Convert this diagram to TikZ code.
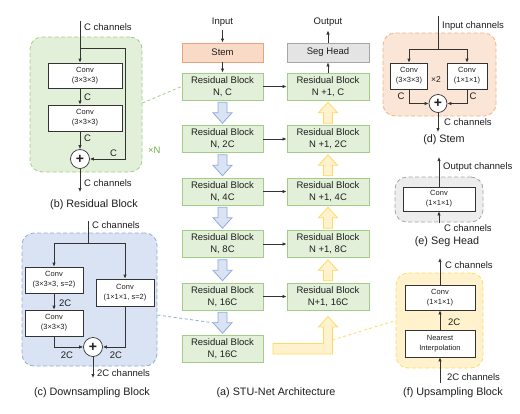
\documentclass[tikz,border=0pt]{standalone}
\usepackage{fontspec}
\setmainfont{Liberation Sans}
\usetikzlibrary{arrows.meta,calc}
\definecolor{tc}{HTML}{1E1E1E}
\definecolor{lncol}{HTML}{333333}
\definecolor{gfill}{HTML}{E2F0D9}
\definecolor{gline}{HTML}{A3CD87}
\definecolor{gtext}{HTML}{70AD47}
\definecolor{bfill}{HTML}{DAE3F3}
\definecolor{bline}{HTML}{8FAADC}
\definecolor{ofill}{HTML}{FBE5D6}
\definecolor{oline}{HTML}{F4B183}
\definecolor{sfill}{HTML}{F9DAC6}
\definecolor{sline}{HTML}{E8A47C}
\definecolor{kfill}{HTML}{EDEDED}
\definecolor{kline}{HTML}{A6A6A6}
\definecolor{hfill}{HTML}{E4E4E4}
\definecolor{yfill}{HTML}{FFF2CC}
\definecolor{yline}{HTML}{FFD966}
\begin{document}
\begin{tikzpicture}[x=1pt,y=-1pt,
  lbl/.style={font=\fontsize{9.5}{12}\selectfont, text=tc, inner sep=0pt},
  captxt/.style={font=\fontsize{10.8}{13}\selectfont, text=tc, inner sep=0pt},
  rb/.style={draw=gline, fill=gfill, line width=0.8pt, minimum width=81pt, minimum height=27pt, inner sep=0pt, align=center, font=\fontsize{9.5}{12}\selectfont, text=tc},
  convbox/.style={draw=lncol, fill=white, line width=0.7pt, inner sep=0pt, align=center, font=\fontsize{7.5}{10}\selectfont, text=tc},
  plusnode/.style={circle, draw=lncol, fill=white, line width=0.7pt, minimum size=19pt, inner sep=0pt, font=\fontsize{14}{14}\selectfont\bfseries, text=tc},
  cont/.style={dashed, dash pattern=on 4pt off 2.5pt, line width=0.8pt, rounded corners=12pt},
  plainln/.style={draw=lncol, line width=0.7pt},
  ar/.style={draw=lncol, line width=0.7pt, -{Latex[length=4pt,width=3.4pt]}},
  downarr/.pic={\draw[draw=bline, fill=bfill, line width=0.8pt] (-4.5,-10.5) -- (4.5,-10.5) -- (4.5,0) -- (9.5,0) -- (0,10.5) -- (-9.5,0) -- (-4.5,0) -- cycle;},
  uparr/.pic={\draw[draw=yline, fill=yfill, line width=0.8pt] (-4.5,10.5) -- (4.5,10.5) -- (4.5,0) -- (9.5,0) -- (0,-10.5) -- (-9.5,0) -- (-4.5,0) -- cycle;}
]
\useasboundingbox (0,0) rectangle (520,413);

% ================= (a) STU-Net Architecture =================
\node[draw=sline, fill=sfill, line width=0.8pt, minimum width=81pt, minimum height=19pt, inner sep=0pt, font=\fontsize{9.5}{12}\selectfont, text=tc] (stem) at (222.5,52.5) {Stem};
\node[draw=kline, fill=hfill, line width=0.8pt, minimum width=82pt, minimum height=19pt, inner sep=0pt, font=\fontsize{9.5}{12}\selectfont, text=tc] (seg) at (328,52.5) {Seg Head};
\node[lbl] (inp) at (222.5,22) {Input};
\node[lbl] (outp) at (328,22) {Output};

\node[rb] (l1) at (222.5,86.5) {Residual Block\\N, C};
\node[rb] (l2) at (222.5,139) {Residual Block\\N, 2C};
\node[rb] (l3) at (222.5,191.5) {Residual Block\\N, 4C};
\node[rb] (l4) at (222.5,244) {Residual Block\\N, 8C};
\node[rb] (l5) at (222.5,296.5) {Residual Block\\N, 16C};
\node[rb] (l6) at (222.5,349) {Residual Block\\N, 16C};

\node[rb, minimum width=82pt] (r1) at (328,86.5) {Residual Block\\N +1, C};
\node[rb, minimum width=82pt] (r2) at (328,139) {Residual Block\\N +1, 2C};
\node[rb, minimum width=82pt] (r3) at (328,191.5) {Residual Block\\N +1, 4C};
\node[rb, minimum width=82pt] (r4) at (328,244) {Residual Block\\N +1, 8C};
\node[rb, minimum width=82pt] (r5) at (328,296.5) {Residual Block\\N+1, 16C};

\draw[ar] ($(inp.south)+(0,4)$) -- (stem);
\draw[ar] (stem) -- (l1);
\draw[ar] (r1) -- (seg);
\draw[ar] (seg) -- ($(outp.south)+(0,4)$);
\foreach \i in {1,...,5}{\draw[ar] (l\i) -- (r\i);}
\foreach \i/\j in {1/2,2/3,3/4,4/5,5/6}{\path ($(l\i.south)!0.5!(l\j.north)$) pic {downarr};}
\foreach \i/\j in {1/2,2/3,3/4,4/5}{\path ($(r\i.south)!0.5!(r\j.north)$) pic {uparr};}
% L-shaped upsampling arrow
\draw[draw=yline, fill=yfill, line width=0.8pt] (273,343.5) -- (323.5,343.5) -- (323.5,327) -- (318.5,327) -- (328,316.5) -- (337.5,327) -- (332.5,327) -- (332.5,354) -- (273,354) -- cycle;
\coordinate (lend) at (332.5,340);
\node[captxt] (capa) at (276,393) {(a) STU-Net Architecture};

% ================= (b) Residual Block =================
\node[cont, draw=gline, fill=gfill, minimum width=112pt, minimum height=135pt] (rbox) at (86,104.5) {};
\coordinate (rin) at (80,21);
\coordinate (rsk) at (80,48);
\node[convbox, minimum width=74pt, minimum height=25pt] (c1) at (85,75.5) {Conv\\(3×3×3)};
\node[convbox, minimum width=74pt, minimum height=26pt] (c2) at (85,118) {Conv\\(3×3×3)};
\node[plusnode] (rp) at (80,159) {+};
\coordinate (rout) at (80,192);
\draw[ar] (rin) -- (rin |- c1.north);
\draw[ar] (rin |- c1.south) -- (rin |- c2.north);
\draw[ar] (rin |- c2.south) -- (rp);
\draw[ar] (rsk) -| ($(rp.east)+(35,0)$) -- (rp.east);
\draw[ar] (rp) -- (rout);
\node[lbl, anchor=west] at (84,27) {C channels};
\node[lbl, anchor=west] at (84,97) {C};
\node[lbl, anchor=west] at (84,138.5) {C};
\node[lbl, anchor=west] at (110,153.5) {C};
\node[lbl, anchor=west] at (84,183) {C channels};
\node[lbl, anchor=west, text=gtext] at (148,150) {×N};
\node[captxt] (capb) at (94,205) {(b) Residual Block};
\draw[draw=gline, line width=0.8pt, dashed, dash pattern=on 3pt off 2.5pt] (rbox.east |- 0,103) -- (l1.west);

% ================= (c) Downsampling Block =================
\node[cont, draw=bline, fill=bfill, minimum width=135pt, minimum height=133pt] (dbox) at (89.5,299.5) {};
\coordinate (din) at (88,221);
\coordinate (dsp) at (88,243);
\node[convbox, minimum width=58pt, minimum height=26pt] (d1) at (54,280) {Conv\\(3×3×3, s=2)};
\node[convbox, minimum width=58pt, minimum height=26pt] (d2) at (54,323) {Conv\\(3×3×3)};
\node[convbox, minimum width=58pt, minimum height=27pt] (d3) at (125,292.5) {Conv\\(1×1×1, s=2)};
\node[plusnode] (dp) at (93,347) {+};
\coordinate (dout) at (93,378);
\draw[plainln] (din) -- (dsp);
\draw[ar] (dsp) -| (d1);
\draw[ar] (dsp) -| (d3);
\draw[ar] (d1) -- (d2);
\draw[ar] (d2) |- (dp);
\draw[ar] (d3) |- (dp);
\draw[ar] (dp) -- (dout);
\node[lbl, anchor=west] at (92,225) {C channels};
\node[lbl, anchor=west] at (59,303) {2C};
\node[lbl] at (67,355.5) {2C};
\node[lbl] at (116,355.5) {2C};
\node[lbl, anchor=west] at (97,373) {2C channels};
\node[captxt] (capc) at (92,393) {(c) Downsampling Block};
\draw[draw=bline, line width=0.8pt, dashed, dash pattern=on 3pt off 2.5pt] (dbox.east |- 0,315) -- ($($(l5.south)!0.5!(l6.north)$)+(-9.5,0)$);

% ================= (d) Stem =================
\node[cont, draw=oline, fill=ofill, minimum width=113pt, minimum height=83pt] (sbox) at (439.5,74.5) {};
\coordinate (sin) at (438,16);
\coordinate (ssp) at (438,49);
\node[convbox, minimum width=37pt, minimum height=26pt] (s1) at (409,76) {Conv\\(3×3×3)};
\node[convbox, minimum width=40pt, minimum height=26pt] (s2) at (467,76) {Conv\\(1×1×1)};
\node[plusnode, minimum size=18pt] (sp) at (438,103.5) {+};
\coordinate (sout) at (438,132);
\draw[plainln] (sin) -- (ssp);
\draw[ar] (ssp) -| (s1);
\draw[ar] (ssp) -| (s2);
\draw[ar] (s1) |- (sp);
\draw[ar] (s2) |- (sp);
\draw[ar] (sp) -- (sout);
\node[lbl, anchor=west] at (442,26) {Input channels};
\node[lbl, font=\fontsize{8.5}{10}\selectfont] at (436,80) {×2};
\node[lbl] at (401,96) {C};
\node[lbl] at (473,96) {C};
\node[lbl, anchor=west] at (444,122) {C channels};
\node[captxt] (capd) at (444,140) {(d) Stem};

% ================= (e) Seg Head =================
\node[cont, draw=kline, fill=kfill, minimum width=88pt, minimum height=45pt] (ebox) at (439,199.5) {};
\node[convbox, minimum width=72pt, minimum height=24pt] (e1) at (439,199) {Conv\\(1×1×1)};
\coordinate (eout) at (439,157);
\coordinate (ein) at (439,223);
\draw[ar] (e1) -- (eout);
\draw[ar] (ein) -- (e1);
\node[lbl, anchor=west] at (443,167) {Output channels};
\node[lbl, anchor=west] at (444,228) {C channels};
\node[captxt] (cape) at (447,242) {(e) Seg Head};

% ================= (f) Upsampling Block =================
\node[cont, draw=yline, fill=yfill, minimum width=87pt, minimum height=95pt] (ubox) at (439.5,320.5) {};
\node[convbox, minimum width=70pt, minimum height=25pt] (u1) at (440,297.5) {Conv\\(1×1×1)};
\node[convbox, minimum width=70pt, minimum height=27pt] (u2) at (440,343.5) {Nearest\\Interpolation};
\coordinate (uout) at (440,258);
\coordinate (uin) at (440,383);
\draw[ar] (u2) -- (u1);
\draw[ar] (u1) -- (uout);
\draw[ar] (uin) -- (u2);
\node[lbl, anchor=west] at (445,265) {C channels};
\node[lbl, anchor=west] at (448,322) {2C};
\node[lbl, anchor=west] at (447,377) {2C channels};
\node[captxt] (capf) at (453,393) {(f) Upsampling Block};
\draw[draw=yline, line width=0.8pt, dashed, dash pattern=on 3pt off 2.5pt] (lend) -- (ubox.west);
\end{tikzpicture}
\end{document}
